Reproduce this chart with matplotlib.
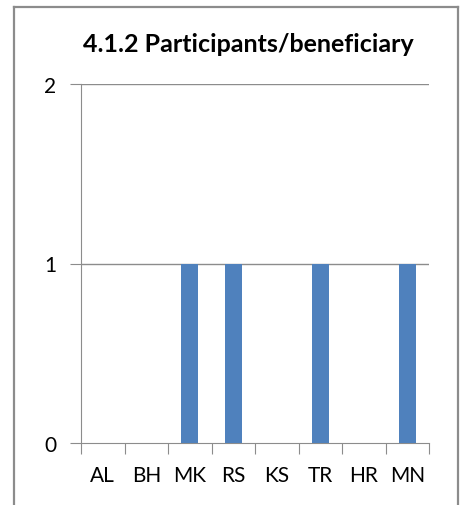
import matplotlib
matplotlib.use('Agg')
import matplotlib.pyplot as plt

# Data
categories = ['AL', 'BH', 'MK', 'RS', 'KS', 'TR', 'HR', 'MN']
values = [0, 0, 1, 1, 0, 1, 0, 1]
y_ticks = [0, 1, 2]
title = '4.1.2 Participants/beneficiary'

plt.rcParams['font.family'] = ['Lato', 'DejaVu Sans']

fig = plt.figure(figsize=(4.65, 5.06), dpi=100)
fig.patch.set_facecolor('white')

# outer chart border (open at the bottom, as in the crop)
W, H = 465, 506
border = dict(color='#8c8c8c', lw=1.6, transform=fig.transFigure)
fig.add_artist(plt.Line2D([14 / W, 14 / W], [0, 1 - 8 / H], **border))
fig.add_artist(plt.Line2D([14 / W, 458 / W], [1 - 8 / H, 1 - 8 / H], **border))
fig.add_artist(plt.Line2D([458 / W, 458 / W], [0, 1 - 8 / H], **border))

ax = fig.add_axes([81 / W, 62 / H, 348 / W, 359 / H])
x = range(len(categories))
ax.bar(x, values, width=0.4, color='#4f81bd', zorder=3)

ax.set_xlim(-0.5, len(categories) - 0.5)
ax.set_ylim(0, 2)
ax.set_yticks(y_ticks)
ax.set_yticklabels([str(v) for v in y_ticks], fontsize=15)
for v in y_ticks[1:]:
    ax.axhline(v, color='#8c8c8c', lw=1, zorder=1)

# category boundaries as tick marks, labels in the middle
ax.set_xticks([i - 0.5 for i in range(len(categories) + 1)])
ax.set_xticklabels([])
ax.set_xticks(list(x), minor=True)
ax.set_xticklabels(categories, minor=True, fontsize=15)
ax.tick_params(axis='x', which='major', length=8, color='#8c8c8c')
ax.tick_params(axis='x', which='minor', length=0, pad=16)
ax.tick_params(axis='y', length=8, color='#8c8c8c', pad=10)

for side in ['top', 'right']:
    ax.spines[side].set_visible(False)
for side in ['left', 'bottom']:
    ax.spines[side].set_color('#8c8c8c')

fig.text(248 / W, 1 - 45 / H, title, ha='center', va='center',
         fontsize=18, fontweight='bold')

fig.savefig('out.png', dpi=100)
